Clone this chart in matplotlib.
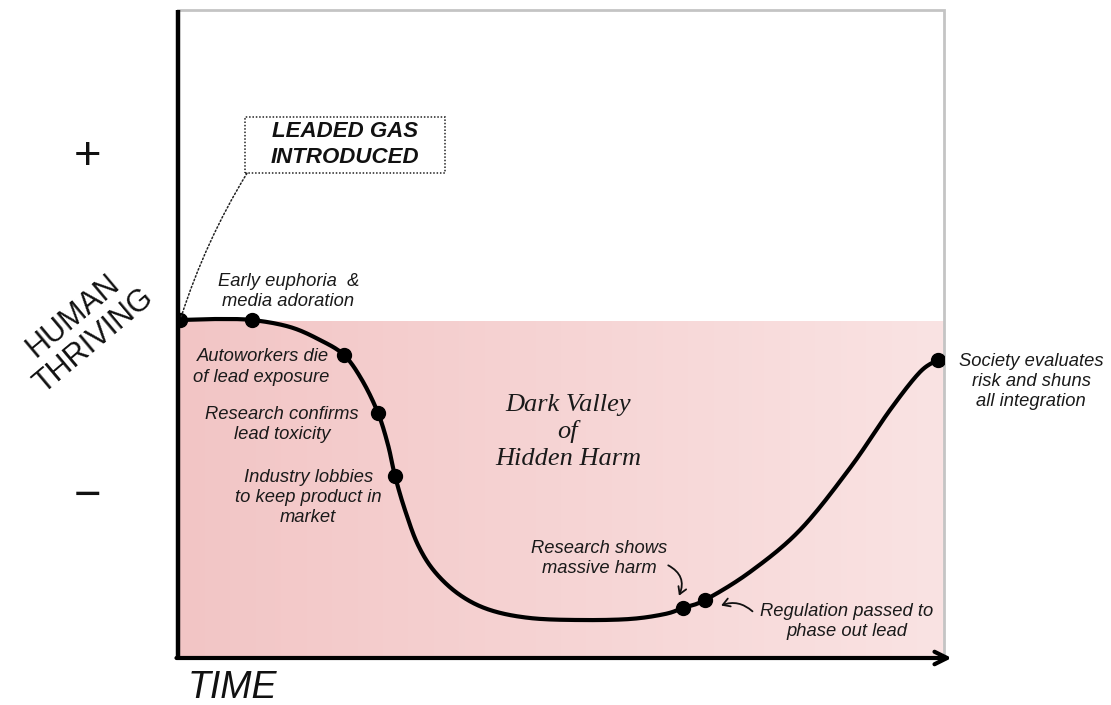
import numpy as np
import matplotlib
matplotlib.use("Agg")
import matplotlib.pyplot as plt
from matplotlib.patches import Rectangle
from matplotlib.colors import LinearSegmentedColormap

# ---------------- data (time 0-100, thriving 0-100) ----------------
curve_time = [0.26, 4.83, 9.66, 14.62, 18.54, 21.67, 24.02, 26.11, 27.42, 28.33,
              29.63, 31.33, 33.55, 36.81, 40.73, 45.95, 52.48, 59.01, 63.58, 65.93,
              68.80, 74.67, 81.20, 87.73, 92.95, 96.87, 99.22]
curve_thriving = [52.16, 52.31, 52.16, 51.08, 49.07, 46.76, 42.90, 37.81, 32.87, 28.09,
                  22.84, 17.44, 13.27, 9.72, 7.41, 6.17, 5.86, 6.02, 6.79, 7.72,
                  8.95, 13.27, 19.75, 29.32, 38.27, 44.14, 45.99]

event_time = [0.26, 9.66, 21.67, 26.11, 28.33, 65.93, 68.80, 99.22]
event_thriving = [52.16, 52.16, 46.76, 37.81, 28.09, 7.72, 8.95, 45.99]

valley_top = 51.9  # upper edge of shaded "valley" band

labels = [
    ("Early euphoria  &\nmedia adoration", 14.4, 56.6, "center"),
    ("Autoworkers die\nof lead exposure", 19.7, 44.9, "right"),
    ("Research confirms\nlead toxicity", 13.6, 36.0, "center"),
    ("Industry lobbies\nto keep product in\nmarket", 17.0, 24.8, "center"),
    ("Research shows\nmassive harm", 55.0, 15.4, "center"),
    ("Regulation passed to\nphase out lead", 87.3, 5.6, "center"),
    ("Society evaluates\nrisk and shuns\nall integration", 111.4, 42.7, "center"),
]


def catmull_rom(xs, ys, n=20):
    P = np.column_stack([xs, ys])
    P = np.vstack([P[0], P, P[-1]])
    out = []
    for i in range(1, len(P) - 2):
        p0, p1, p2, p3 = P[i - 1], P[i], P[i + 1], P[i + 2]
        t = np.linspace(0, 1, n, endpoint=False)[:, None]
        pts = 0.5 * ((2 * p1) + (-p0 + p2) * t + (2 * p0 - 5 * p1 + 4 * p2 - p3) * t ** 2
                     + (-p0 + 3 * p1 - 3 * p2 + p3) * t ** 3)
        out.append(pts)
    out.append(P[-2][None, :])
    out = np.vstack(out)
    return out[:, 0], out[:, 1]


fig = plt.figure(figsize=(11.11, 7.05), dpi=100)
ax = fig.add_axes([178 / 1111, 47 / 705, 766 / 1111, 648 / 705])
ax.set_xlim(0, 100)
ax.set_ylim(0, 100)
ax.axis("off")

# shaded valley with horizontal gradient
cmap = LinearSegmentedColormap.from_list("pk", ["#f2c5c5", "#f6d4d4", "#fae3e3"])
grad = np.linspace(0, 1, 256)[None, :]
ax.imshow(grad, extent=[0, 100, 0, valley_top], cmap=cmap, aspect="auto", zorder=0)

# light gray frame (top and right)
ax.plot([0, 100, 100], [100, 100, 0.3], color="#c4c4c4", lw=2.0, zorder=1, clip_on=False,
        solid_joinstyle="miter")

# axes lines
ax.plot([0, 0], [0, 100], color="black", lw=3.2, zorder=5, clip_on=False, solid_capstyle="butt")
ax.annotate("", xy=(101.0, 0), xytext=(-0.2, 0),
            arrowprops=dict(arrowstyle="->,head_length=0.9,head_width=0.45", lw=3.0,
                            color="black", shrinkA=0, shrinkB=0),
            annotation_clip=False, zorder=5)

# curve
cx, cy = catmull_rom(curve_time, curve_thriving)
ax.plot(cx, cy, color="black", lw=3.0, zorder=6, solid_capstyle="round")
ax.plot(event_time, event_thriving, "o", color="black", ms=10, zorder=7)

sans = "Liberation Sans"
tc = "#1a1a1a"
for txt, x, y, ha in labels:
    ax.text(x, y, txt, ha=ha, va="center", fontsize=13.2, style="italic", family=sans,
            color=tc, linespacing=1.25, clip_on=False, zorder=8)

# Dark valley text
ax.text(50.9, 34.9, "Dark Valley\nof\nHidden Harm", ha="center", va="center", fontsize=19,
        style="italic", family="Liberation Serif", color="#1a1a1a", linespacing=1.25, zorder=8)

# leaded gas box
ax.text(21.8, 79.2, "LEADED GAS\nINTRODUCED", ha="center", va="center", fontsize=16,
        style="italic", weight="bold", family=sans, color="#111111", linespacing=1.3,
        clip_on=False, zorder=8)
box = Rectangle((8.8, 74.8), 26.1, 8.64, fill=False, ls=(0, (1, 1.2)), lw=1.1,
                ec="#222222", zorder=8)
ax.add_patch(box)
ax.annotate("", xy=(0.4, 52.6), xytext=(9.0, 74.8),
            arrowprops=dict(arrowstyle="-", ls=(0, (1, 1.5)), lw=1.1, color="#222222",
                            connectionstyle="arc3,rad=0.06", shrinkA=0, shrinkB=0),
            zorder=8)

# small curved arrows
ax.annotate("", xy=(65.4, 9.6), xytext=(64.0, 14.3),
            arrowprops=dict(arrowstyle="->,head_length=0.5,head_width=0.3", lw=1.3,
                            color="#111111", connectionstyle="arc3,rad=-0.45",
                            shrinkA=0, shrinkB=0), zorder=8)
ax.annotate("", xy=(70.9, 8.1), xytext=(75.0, 7.2),
            arrowprops=dict(arrowstyle="->,head_length=0.5,head_width=0.3", lw=1.3,
                            color="#111111", connectionstyle="arc3,rad=0.3",
                            shrinkA=0, shrinkB=0), zorder=8)

# axis labels
ax.text(-11.75, 77.3, "+", ha="center", va="center", fontsize=34, family=sans,
        color="#111111", clip_on=False)
ax.text(-11.75, 24.8, "\u2212", ha="center", va="center", fontsize=34, family=sans,
        color="#111111", clip_on=False)
ax.text(-12.3, 50.8, "HUMAN\nTHRIVING", ha="center", va="center", fontsize=22, rotation=40,
        family=sans, color="#111111", linespacing=1.1, clip_on=False,
        rotation_mode="anchor")
ax.text(1.3, -4.6, "TIME", ha="left", va="center", fontsize=27, style="italic",
        family=sans, color="#111111", clip_on=False)

fig.savefig("out.png", dpi=100, facecolor="white")
